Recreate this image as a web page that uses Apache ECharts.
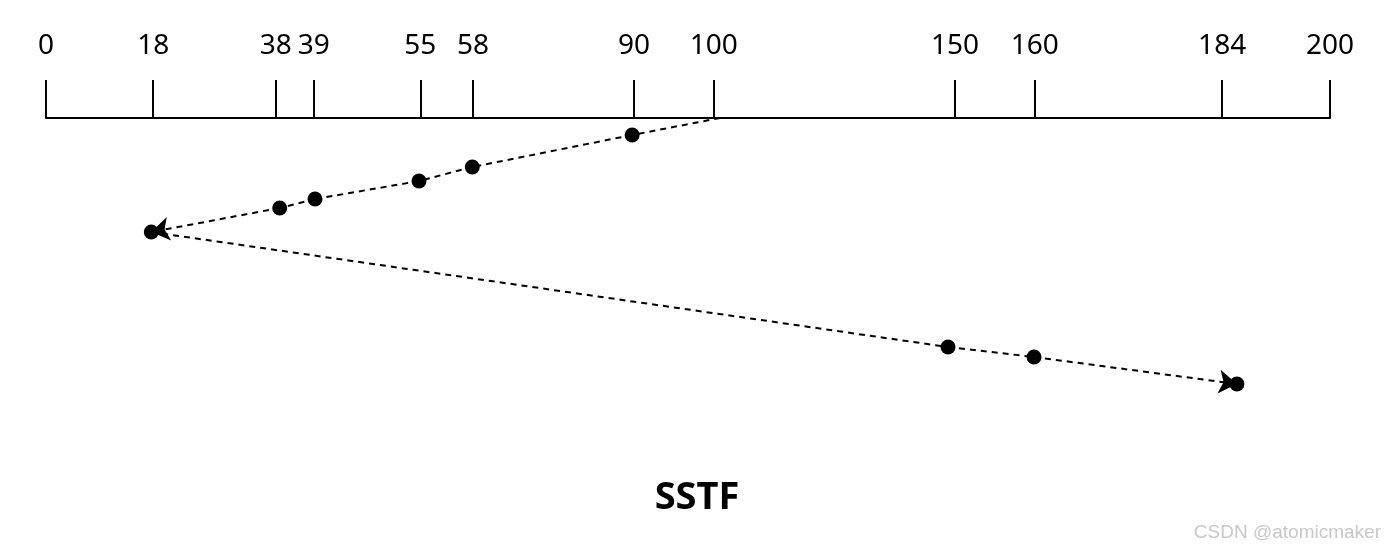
<!DOCTYPE html>
<html><head><meta charset="utf-8">
<script src="https://cdn.jsdelivr.net/npm/echarts@6/dist/echarts.min.js"></script>
<style>html,body{margin:0;padding:0;background:#fff}#c{width:1394px;height:558px}</style>
</head><body><div id="c"></div>
<script>
// Track numbers shown on the axis and where the diagram draws them (axis units 0-200)
const trackLabels = [0, 18, 38, 39, 55, 58, 90, 100, 150, 160, 184, 200];
const tickPositions = [0, 16.7, 35.8, 41.7, 58.3, 66.5, 91.6, 104, 141.6, 154, 183.2, 200];
// Visit order (SSTF) from head at 100: x position as drawn, y = step depth
const pathX = [105, 91.3, 66.4, 58.1, 41.9, 36.4, 16.4, 140.5, 153.9, 185.5];
const pathY = [0, 17, 49, 63, 81, 90, 114, 229, 239, 266];
const dotFlags = [false, true, true, true, true, true, true, true, true, true];
const arrowAt = [6, 9]; // path indices where a direction arrow ends

const segs = [], dots = [];
pathX.forEach((x, i) => {
  if (dotFlags[i]) dots.push([x, pathY[i]]);
  if (i > 0) {
    const seg = {coords: [[pathX[i - 1], pathY[i - 1]], [x, pathY[i]]]};
    if (arrowAt.includes(i)) seg.symbol = ['none', 'arrow'];
    segs.push(seg);
  }
});
const labelMap = {};
tickPositions.forEach((p, i) => labelMap[p] = trackLabels[i]);

const chart = echarts.init(document.getElementById('c'));
chart.setOption({
  animation: false,
  title: [
    {text: 'SSTF', left: 'center', top: 474, textStyle: {fontSize: 38, fontWeight: 'bold', color: '#000', fontFamily: 'Noto Sans'}},
    {text: 'CSDN @atomicmaker', right: 8, top: 518, textStyle: {fontSize: 19, fontWeight: 'normal', color: '#c8c8c8', fontFamily: 'Liberation Sans'}}
  ],
  grid: {left: 46, top: 118, width: 1284, height: 440},
  xAxis: {
    type: 'value', position: 'top', min: 0, max: 200,
    splitLine: {show: false},
    axisLine: {show: true, lineStyle: {color: '#000', width: 2}},
    axisTick: {show: true, length: 38, customValues: tickPositions, lineStyle: {color: '#000', width: 2}},
    axisLabel: {customValues: tickPositions, margin: 58, fontSize: 28, color: '#000', fontFamily: 'Noto Sans',
      hideOverlap: false, formatter: v => String(labelMap[v] ?? '')}
  },
  yAxis: {type: 'value', inverse: true, min: 0, max: 440, show: false},
  series: [
    {type: 'lines', coordinateSystem: 'cartesian2d', z: 2,
      symbol: ['none', 'none'], symbolSize: 18,
      lineStyle: {color: '#000', width: 2, type: [6, 5], opacity: 1},
      data: segs},
    {type: 'scatter', data: dots, symbolSize: 15, itemStyle: {color: '#000', opacity: 1}, z: 3}
  ]
});
</script></body></html>
